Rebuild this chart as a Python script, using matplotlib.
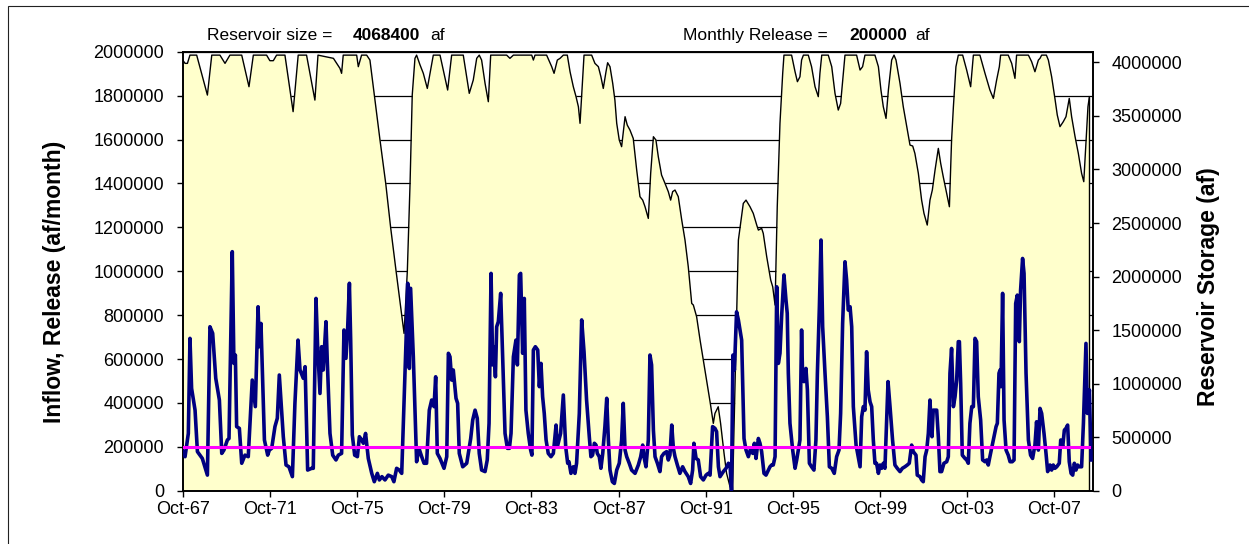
import numpy as np
import matplotlib
matplotlib.use("Agg")
import matplotlib.pyplot as plt
from matplotlib.patches import Rectangle
from matplotlib.transforms import blended_transform_factory

plt.rcParams['font.family'] = ['Liberation Sans', 'DejaVu Sans']

# months counted from Oct-1967
reservoir_size = 4068400
monthly_release = 200000

tick_months = [0, 48, 96, 144, 192, 240, 288, 336, 384, 432, 480]
tick_labels = ['Oct-67', 'Oct-71', 'Oct-75', 'Oct-79', 'Oct-83', 'Oct-87',
               'Oct-91', 'Oct-95', 'Oct-99', 'Oct-03', 'Oct-07']

# inflow (thousand af / month)
inflow_month = [
  0, 1.3, 3.1, 4.0, 4.9, 6.8, 8.1, 9.5, 10.8, 13.6,
  15.0, 16.5, 18.2, 20.2, 21.5, 22.7, 24.6, 25.5, 27.3, 28.2,
  29.0, 29.7, 31.2, 32.5, 34.3, 36.1, 38.3, 40.0, 41.5, 42.2,
  43.1, 45.0, 46.8, 47.7, 49.0, 50.8, 52.1, 53.2, 55.4, 56.9,
  58.5, 60.4, 61.8, 63.5, 64.6, 66.4, 67.4, 68.8, 71.0, 71.9,
  73.4, 74.3, 75.6, 76.5, 77.4, 78.4, 78.9, 79.6, 81.1, 82.6,
  84.4, 85.7, 87.5, 88.8, 89.9, 90.8, 91.8, 92.5, 93.4, 94.7,
  96.2, 97.3, 98.5, 99.5, 100.7, 102.2, 104.1, 105.5, 107.2, 108.3,
  109.7, 111.4, 113.2, 115.1, 116.3, 117.8, 119.3, 120.6, 121.5, 123.0,
  123.9, 124.8, 125.5, 127.0, 128.8, 130.1, 131.6, 132.9, 134.3, 135.8,
  137.1, 138.4, 139.3, 140.2, 141.7, 143.9, 145.4, 146.3, 147.2, 148.1,
  149.0, 150.5, 151.4, 152.3, 154.2, 156.4, 158.6, 159.7, 161.0, 162.2,
  163.3, 164.6, 166.5, 167.7, 168.7, 169.8, 170.7, 171.4, 172.2, 172.9,
  173.8, 175.1, 176.2, 177.5, 178.8, 179.9, 180.8, 182.1, 183.5, 184.3,
  185.4, 186.1, 187.2, 188.1, 189.0, 190.3, 191.6, 192.3, 193.1, 194.2,
  195.5, 196.4, 197.3, 198.2, 199.1, 200.1, 201.3, 202.8, 204.1, 205.6,
  206.3, 207.2, 208.1, 209.6, 210.9, 212.0, 212.7, 213.8, 215.1, 216.0,
  216.9, 218.4, 219.7, 221.0, 222.4, 223.9, 224.8, 225.7, 226.7, 227.6,
  228.3, 229.4, 230.3, 231.3, 232.5, 233.5, 234.4, 235.3, 236.6, 237.7,
  239.0, 240.4, 241.7, 242.6, 243.6, 244.5, 245.9, 247.2, 249.1, 250.9,
  252.2, 253.3, 254.0, 255.1, 256.4, 257.3, 258.2, 259.2, 260.1, 261.4,
  262.8, 263.7, 265.0, 266.5, 267.4, 268.3, 269.3, 270.2, 271.1, 272.4,
  273.8, 275.3, 276.6, 278.4, 279.7, 280.8, 281.5, 282.7, 283.9, 285.2,
  286.7, 288.2, 289.4, 290.4, 291.8, 293.1, 294.0, 295.0, 295.9, 297.7,
  299.2, 300.5, 301.4, 302.2, 303.0, 303.8, 305.0, 306.0, 307.8, 309.1,
  310.2, 311.5, 312.8, 313.9, 314.8, 315.7, 317.0, 317.9, 318.8, 320.1,
  321.2, 322.5, 323.4, 324.3, 325.2, 326.2, 327.1, 328.0, 328.9, 329.8,
  331.1, 332.2, 332.9, 333.5, 334.4, 335.9, 337.2, 338.1, 339.0, 339.9,
  340.8, 341.4, 342.1, 343.2, 344.0, 345.1, 346.3, 347.6, 348.7, 349.5,
  350.6, 351.5, 352.4, 353.7, 355.0, 356.1, 357.4, 358.8, 360.1, 361.4,
  362.3, 363.4, 364.7, 365.6, 366.5, 367.5, 368.4, 369.3, 370.8, 372.0,
  373.0, 373.9, 374.8, 375.7, 376.6, 377.5, 378.5, 379.4, 380.3, 381.2,
  382.1, 383.1, 384.0, 384.9, 385.8, 386.7, 387.6, 388.4, 389.5, 390.9,
  392.2, 393.5, 395.0, 396.3, 397.7, 399.0, 400.1, 401.4, 402.3, 403.8,
  404.5, 406.0, 406.9, 407.8, 408.8, 409.7, 410.6, 411.5, 412.1, 412.6,
  413.3, 414.3, 415.2, 416.1, 417.0, 417.9, 419.2, 420.7, 421.6, 422.5,
  423.4, 424.4, 425.3, 426.2, 427.1, 427.7, 428.4, 429.3, 430.8, 431.7,
  432.6, 433.5, 434.5, 435.4, 436.3, 437.2, 438.1, 439.4, 440.5, 441.8,
  442.7, 443.6, 444.5, 446.4, 447.9, 448.6, 449.5, 450.1, 450.6, 451.5,
  452.3, 453.4, 454.6, 455.6, 456.8, 457.8, 458.7, 459.6, 460.7, 461.4,
  462.5, 463.3, 464.4, 465.7, 466.9, 468.0, 469.3, 470.2, 471.2, 472.1,
  473.0, 474.3, 475.4, 476.3, 477.6, 478.5, 479.4, 480.3, 481.3, 482.7,
  483.5, 484.6, 485.5, 486.4, 487.3, 488.2, 489.2, 490.1, 491.0, 491.9,
  492.8, 493.7, 495.0, 496.0, 497.4, 498.2, 499.3, 500.2,
]
inflow_kaf = [
  178, 155, 261, 694, 466, 367, 178, 162, 147, 71,
  747, 717, 512, 413, 170, 185, 231, 238, 1089, 580,
  618, 292, 284, 125, 162, 155, 504, 383, 838, 656,
  762, 231, 162, 185, 193, 292, 330, 527, 246, 117,
  109, 64, 398, 686, 550, 512, 565, 94, 102, 102,
  876, 656, 443, 656, 550, 694, 770, 595, 261, 162,
  140, 162, 170, 732, 603, 732, 945, 686, 254, 162,
  155, 246, 231, 216, 261, 147, 79, 41, 79, 49,
  64, 49, 71, 64, 41, 102, 94, 79, 307, 686,
  945, 557, 922, 610, 132, 193, 155, 125, 125, 367,
  413, 383, 519, 170, 147, 102, 155, 626, 610, 504,
  550, 421, 398, 170, 109, 125, 238, 322, 367, 330,
  170, 94, 87, 140, 307, 990, 573, 656, 519, 747,
  770, 899, 610, 261, 193, 193, 261, 610, 686, 573,
  983, 990, 626, 876, 367, 261, 185, 162, 641, 656,
  641, 474, 580, 428, 352, 231, 170, 155, 170, 299,
  200, 231, 261, 436, 200, 125, 132, 79, 109, 79,
  125, 352, 778, 633, 413, 246, 155, 162, 216, 208,
  170, 155, 102, 170, 292, 421, 231, 94, 41, 33,
  94, 125, 231, 398, 185, 155, 125, 94, 79, 117,
  155, 208, 155, 109, 231, 618, 573, 276, 155, 125,
  87, 155, 170, 178, 140, 162, 299, 193, 155, 117,
  79, 109, 87, 64, 33, 94, 216, 147, 140, 64,
  49, 71, 79, 71, 292, 284, 269, 109, 64, 87,
  102, 125, 117, 3, 618, 550, 815, 778, 686, 238,
  185, 155, 193, 170, 216, 147, 238, 216, 178, 79,
  71, 94, 109, 117, 117, 155, 929, 580, 626, 793,
  983, 869, 808, 535, 307, 185, 102, 140, 185, 231,
  732, 504, 497, 557, 459, 125, 109, 94, 231, 535,
  838, 1142, 747, 535, 337, 109, 102, 79, 155, 185,
  352, 762, 1043, 960, 823, 838, 747, 383, 208, 155,
  109, 337, 383, 367, 633, 459, 405, 383, 231, 125,
  125, 79, 117, 102, 125, 102, 307, 497, 383, 231,
  117, 102, 87, 102, 109, 117, 125, 208, 178, 162,
  71, 64, 49, 41, 155, 185, 261, 413, 307, 246,
  367, 367, 367, 246, 87, 87, 125, 132, 155, 535,
  648, 383, 428, 504, 679, 679, 489, 162, 147, 140,
  125, 307, 383, 383, 694, 679, 428, 322, 140, 132,
  140, 117, 155, 231, 292, 307, 535, 550, 474, 899,
  322, 185, 162, 132, 132, 140, 853, 891, 679, 914,
  1058, 990, 535, 231, 162, 147, 208, 314, 185, 375,
  352, 261, 170, 87, 117, 94, 117, 102, 109, 125,
  231, 200, 276, 284, 299, 132, 79, 71, 125, 94,
  117, 109, 109, 307, 671, 352, 459, 140,
]

# reservoir storage (thousand af)
storage_month = [
  0, 1.3, 2.6, 4.0, 7.7, 13.6, 16.0, 20.5, 23.3, 26.0,
  32.5, 36.5, 38.9, 46.2, 48.0, 49.9, 51.7, 56.3, 60.8, 63.6,
  68.2, 72.8, 74.5, 83.0, 84.8, 86.6, 87.5, 88.4, 95.8, 96.7,
  98.5, 101.3, 103.1, 105.5, 108.6, 111.8, 114.5, 117.5, 119.1, 120.6,
  121.9, 123.7, 125.2, 126.4, 127.9, 128.8, 130.7, 132.5, 134.7, 138.0,
  141.7, 145.9, 148.1, 154.5, 157.8, 160.0, 161.9, 163.3, 164.6, 166.5,
  168.3, 169.6, 178.4, 180.2, 182.1, 192.2, 193.1, 194.0, 200.4, 203.2,
  204.5, 206.3, 207.8, 209.6, 211.8, 213.3, 215.1, 216.6, 217.9, 218.8,
  221.0, 225.2, 227.0, 228.9, 230.3, 231.6, 233.1, 234.0, 235.3, 236.8,
  238.0, 239.0, 240.4, 241.7, 243.6, 244.8, 246.3, 248.1, 250.0, 251.8,
  253.3, 254.6, 256.4, 257.7, 259.2, 260.6, 261.9, 263.7, 265.6, 267.4,
  268.7, 269.8, 271.1, 272.9, 274.8, 276.6, 278.4, 280.3, 281.2, 283.0,
  284.9, 286.7, 288.5, 290.4, 292.2, 293.1, 294.9, 296.2, 298.1, 299.5,
  301.4, 302.8, 306.0, 308.7, 310.2, 312.4, 314.2, 316.1, 317.0, 318.8,
  319.7, 321.6, 323.8, 324.9, 326.2, 327.4, 328.9, 330.4, 331.1, 335.3,
  337.2, 338.5, 339.9, 340.8, 341.8, 344.5, 346.3, 348.2, 350.0, 350.9,
  351.9, 355.5, 357.4, 359.2, 361.0, 362.3, 363.8, 364.7, 371.1, 373.0,
  374.4, 375.7, 381.2, 383.1, 384.5, 385.8, 387.3, 388.6, 390.4, 391.7,
  392.8, 395.0, 396.8, 398.7, 400.5, 402.0, 403.2, 405.1, 406.9, 408.2,
  410.0, 411.5, 412.8, 414.3, 416.1, 417.4, 418.8, 420.7, 422.2, 423.4,
  424.4, 425.8, 427.1, 429.5, 431.7, 433.9, 435.4, 439.0, 441.8, 444.5,
  446.4, 448.2, 449.7, 450.4, 454.6, 456.5, 458.3, 459.2, 465.7, 467.5,
  469.3, 471.2, 472.1, 473.0, 475.6, 476.7, 478.5, 480.3, 481.6, 483.1,
  484.9, 486.4, 488.2, 489.5, 491.4, 493.2, 495.0, 496.2, 497.5, 498.5, 499.3,
]
storage_kaf = [
  4022, 3991, 3991, 4068, 4068, 3695, 4068, 4068, 3991, 4068,
  4068, 3773, 4068, 4068, 4016, 4016, 4068, 4068, 3540, 4068,
  4068, 3648, 4068, 4038, 3991, 3944, 3898, 4068, 4068, 3960,
  4068, 4068, 4022, 3695, 3281, 2870, 2459, 2051, 1843, 1640,
  1469, 2051, 2870, 3695, 4038, 4068, 3976, 3898, 3757, 4068,
  4068, 3742, 4068, 4068, 3711, 3835, 4038, 4068, 4022, 3804,
  3633, 4068, 4068, 4038, 4068, 4068, 4022, 4068, 4068, 3960,
  3898, 4022, 4038, 4068, 4068, 3913, 3773, 3680, 3586, 3431,
  4068, 4068, 3991, 3960, 3866, 3757, 3913, 3997, 3960, 3804,
  3648, 3431, 3275, 3213, 3493, 3415, 3368, 3290, 2995, 2746,
  2714, 2652, 2543, 2964, 3306, 3275, 3119, 2948, 2870, 2793,
  2714, 2793, 2808, 2746, 2528, 2341, 2092, 1749, 1734, 1625,
  1407, 1220, 1034, 831, 629, 722, 784, 629, 349, 162,
  37, 0, 2341, 2683, 2714, 2652, 2590, 2481, 2434, 2450,
  2403, 2185, 1967, 1905, 1734, 2652, 3431, 3898, 4068, 4068,
  3913, 3820, 3866, 4022, 4068, 4068, 3960, 3773, 3680, 3898,
  4068, 4068, 3960, 3711, 3555, 3617, 3898, 4068, 4068, 3929,
  3960, 4068, 4068, 3960, 3742, 3586, 3477, 3742, 4022, 4068,
  4022, 3804, 3586, 3400, 3228, 3219, 3150, 2964, 2714, 2590,
  2481, 2714, 2808, 2995, 3197, 3057, 2933, 2777, 2652, 3275,
  3586, 3960, 4068, 4068, 3929, 3773, 4068, 4068, 3898, 3742,
  3664, 3835, 3960, 4068, 4068, 3991, 3851, 4068, 4068, 4006,
  3913, 4022, 4038, 4068, 4068, 4022, 3866, 3664, 3509, 3400,
  3446, 3493, 3664, 3493, 3306, 3150, 2964, 2886, 3275, 3586, 3680,
]

release_month = [0, 499.3]
release_af = [monthly_release, monthly_release]

inflow_af = np.array(inflow_kaf) * 1000
storage_af = np.array(storage_kaf) * 1000

W, H = 1249, 544
fig = plt.figure(figsize=(W / 100, H / 100), dpi=100)
ax = fig.add_axes([182.7 / W, 1 - 490.7 / H, (1092.5 - 182.7) / W, (490.7 - 51.7) / H])
ax2 = ax.twinx()
# storage axis goes underneath so the inflow lines sit on top of the yellow area
ax.set_zorder(ax2.get_zorder() + 1)
ax.patch.set_visible(False)

ax.set_ylim(0, 2000000)
ax2.set_ylim(0, 4100000)
ax.set_xlim(0, 501)

# horizontal gridlines follow the left scale but sit behind the area fill
grid_tr = blended_transform_factory(ax2.transAxes, ax.transData)
for v in range(200000, 2000001, 200000):
  ax2.plot([0, 1], [v, v], color='black', lw=0.9, transform=grid_tr, zorder=0.5)

ax2.fill_between(storage_month, storage_af, color='#FFFFCC', lw=0, zorder=1)
ax2.plot(storage_month, storage_af, color='black', lw=1.0, zorder=2)
ax2.vlines(storage_month[-1], 0, storage_af[-1], color='black', lw=1.0, zorder=2)

ax.plot(inflow_month, inflow_af, color='#000080', lw=2.6, zorder=3)
ax.plot(release_month, release_af, color='#FF00FF', lw=2.2, zorder=4)

ax.set_yticks(range(0, 2000001, 200000))
ax.set_yticklabels([str(v) for v in range(0, 2000001, 200000)])
ax2.set_yticks(range(0, 4000001, 500000))
ax2.set_yticklabels([str(v) for v in range(0, 4000001, 500000)])
ax.set_xticks(tick_months)
ax.set_xticklabels(tick_labels)

ax.tick_params(axis='y', direction='out', length=4.5, width=1, labelsize=13, pad=9)
ax.tick_params(axis='x', direction='out', length=4.5, width=1, labelsize=13, pad=3)
ax2.tick_params(axis='y', direction='out', length=4.5, width=1, labelsize=13, pad=9)

for a in (ax, ax2):
  for s in a.spines.values():
    s.set_color('black')
    s.set_linewidth(1.2)

fig.text(55 / W, 1 - 282 / H, 'Inflow, Release (af/month)', rotation=90,
         ha='center', va='center', fontsize=16.5, fontweight='bold')
fig.text(1208 / W, 1 - 287 / H, 'Reservoir Storage (af)', rotation=90,
         ha='center', va='center', fontsize=16.5, fontweight='bold')

ty = 1 - 40 / H
fig.text(206.7 / W, ty, 'Reservoir size =', fontsize=12.5, va='baseline')
fig.text(353 / W, ty, str(reservoir_size), fontsize=12.5, fontweight='bold', va='baseline')
fig.text(430 / W, ty, 'af', fontsize=12.5, va='baseline')
fig.text(683 / W, ty, 'Monthly Release =', fontsize=12.5, va='baseline')
fig.text(849 / W, ty, str(monthly_release), fontsize=12.5, fontweight='bold', va='baseline')
fig.text(915 / W, ty, 'af', fontsize=12.5, va='baseline')

# outer chart frame (only top and left edges fall inside the picture)
fig.add_artist(Rectangle((8 / W, -0.1), 1.2, 1.1 - 6 / H, transform=fig.transFigure,
                         fill=False, edgecolor='#222222', lw=0.8))

fig.savefig('out.png', dpi=100)
